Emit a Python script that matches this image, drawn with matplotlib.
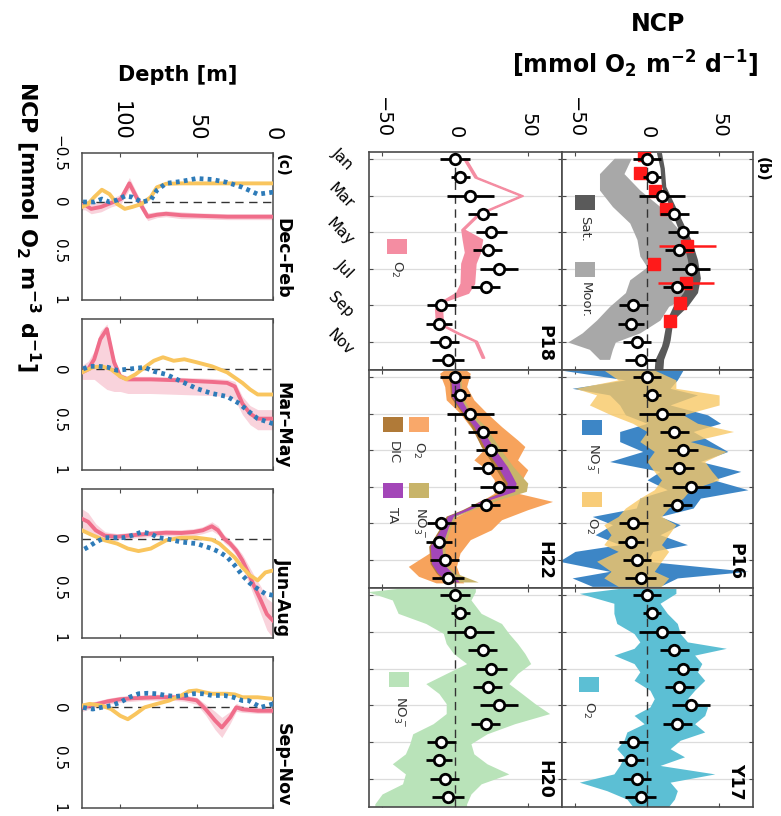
import matplotlib.pyplot as plt
from matplotlib.patches import Rectangle

plt.rcParams['font.family'] = ['DejaVu Sans']
plt.rcParams['mathtext.default'] = 'regular'

W, H = 781, 816

# ---------------- (b) monthly NCP [mmol O2 m-2 d-1] ----------------
months = [1, 2, 3, 4, 5, 6, 7, 8, 9, 10, 11, 12]
month_ticks = [1, 3, 5, 7, 9, 11]
month_labels = ['Jan', 'Mar', 'May', 'Jul', 'Sep', 'Nov']
ncp_circ = [0, 3.5, 10.5, 19, 25, 22.5, 30.5, 21, -9.5, -11, -7, -4.5]
ncp_circ_err = [10, 6.5, 16, 10, 10.5, 10, 13, 10, 10, 9, 10, 11]

# station P: satellite / mooring / red estimates
sat_t = [0.65, 1.5, 2.5, 3.5, 4.5, 5.5, 6.5, 7.5, 8.3, 9.05, 9.8, 10.9, 11.2, 11.95, 12.5]
sat_lo = [6.5, 9, 10, 15, 20, 25, 28, 30, 25, 18, 13.5, 11, 10, 5.5, 5]
sat_hi = [10, 12, 13, 19, 25, 31, 35, 37, 35, 28, 18, 16, 15, 11.5, 11]
moor_t = [0.96, 1.8, 2.7, 3.6, 4.5, 5.4, 6.3, 6.9, 7.6, 8.3, 9.05, 9.8, 10.5, 11.0, 11.4, 11.95]
moor_lo = [-22.8, -33, -33, -24, -12, -7, -5, 0, -12, -15, -26, -35, -45, -55, -40, -33]
moor_hi = [-11, -16, -5, 9, 18, 28, 32, 33, 33, 33, 15, 9, -5, -22, -24, -26]
red_t = [0.78, 1.76, 2.76, 3.76, 5.76, 6.76, 7.76, 8.85, 9.85]
red_v = [-2, -5, 5.5, 13, 28, 5, 27, 23, 16]
red_err = [0, 0, 0, 0, 19.5, 0, 19.5, 0, 0]

# P18 O2
p18_t = [1.0, 2.0, 3.0, 4.0, 4.85, 5.4, 6.1, 6.7, 7.8, 8.3, 8.75, 9.2, 9.8, 10.0, 10.5, 10.95, 11.85]
p18_lo = [6, 13.5, 45, 15.5, 4.5, 5.5, 7, 4.5, 4, 1, -8.5, -13.5, -13, -11, 1, 13.5, 18.5]
p18_hi = [7.5, 15, 46.5, 17, 6, 18.5, 17, 14, 13, 9, -7, -9, -8.5, -9.5, 2.5, 15, 20]

# P16 NO3 and O2
p16_t = [0.62, 1.16, 1.62, 1.98, 2.53, 3.07, 3.53, 3.98, 4.53, 5.07, 5.62, 6.16, 6.62,
         7.16, 7.62, 8.16, 8.62, 9.07, 9.62, 10.16, 10.53, 11.07, 11.62, 11.98, 12.44]
p16_no3_lo = [-60, -15, -52, -26, -19, -15, 0, -19, -19, -3, -26, 9, 0,
              14, -5, -7.5, -38, -24, -36, -19, -50, -61, -26, -52, -38]
p16_no3_hi = [25, 21, 16, 35, 16, 42, 51, 32, 44, 56, 37, 65, 46,
              70, 37, 32, 9, 23, 9, 28, 4, 0, 70, 21, 9]
p16_o2_lo = [-30, -20, -50, -35, -40, -25, -10, 0, -5, 5, 0, 5, 10,
             5, -5, -15, -20, -30, -25, -30, -20, -35, -25, -30, -20]
p16_o2_hi = [5, 20, 20, 50, 50, 25, 35, 60, 30, 55, 40, 45, 50,
             30, 25, 15, 10, 20, 15, 10, 15, 10, 5, 15, 10]

# H22 O2, NO3, DIC, TA
h22_t = [0.65, 0.8, 1.53, 2.25, 2.98, 3.71, 4.44, 4.8, 5.53, 6.07, 6.62, 7.35, 7.8, 8.25,
         8.8, 9.35, 9.89, 10.62, 11.35, 11.89, 12.25]
h22_o2_lo = [-8, -10.5, -7, -6, 3.5, 10.5, 17.6, 22, 13, 22, 27, 27, 17.6, 10.5,
             -3.5, -6, -10.5, -17.6, -32, -25, -13]
h22_o2_hi = [8, 10.5, 8, 13, 22, 32, 43, 48, 43, 50, 46, 43, 67, 50,
             32, 25, 10.5, 3.5, 1, 3.5, 6]
h22_c_t = [0.8, 2.1, 3.0, 3.7, 4.8, 5.9, 6.8, 7.25, 7.7, 8.25, 8.6, 9.2, 10.25, 11.2, 11.7, 12.2]
h22_no3_lo = [-2, -1, 7, 12, 18, 28, 38, 40, 26, 8, -4, -8, -15, -14, -10, -3]
h22_no3_hi = [4, 5, 12, 21, 30, 40, 50, 49, 30, 12, 1, -3, -7, -6, 0, 16]
h22_dic_lo = [-4, -3, 5, 11, 18, 27, 34, 33, 19, 5, -6, -10, -18, -17, -13, -7]
h22_dic_hi = [2, 2, 8, 15, 23, 32, 38, 37, 22, 8, -3, -6, -11, -10, -4, 1]
h22_ta_lo = [-3, -2, 6, 13, 20, 29.5, 36, 34, 20, 6, -5, -9, -17, -16, -12, -5]
h22_ta_hi = [3, 3.5, 10, 17.5, 26, 36, 42, 41, 24, 10, -1, -4.5, -9, -8, -2, 3]

# H20 NO3
h20_t = [0.65, 0.82, 1.27, 2.0, 2.55, 3.09, 3.64, 4.18, 4.73, 5.27, 5.82, 6.36, 6.91, 7.45,
         8.0, 8.55, 9.09, 9.64, 10.18, 10.73, 11.27, 11.82, 12.36, 12.5]
h20_lo = [-40, -60, -43, -39, -20, -8, -6, -1, 8, -6, -20, -11, -6, -6,
          -15, -29, -31, -34, -43, -34, -36, -50, -55, -55]
h20_hi = [14, 14, 11, 18, 32, 37, 43, 48, 52, 43, 37, 46, 55, 65,
          41, 22, 11, 13, 22, 37, 18, 11, 8, 8]

# Y17 O2
y17_t = [0.65, 0.91, 1.45, 2.0, 2.55, 3.1, 3.55, 3.9, 4.27, 4.73, 5.18, 5.64, 6.18, 6.64,
         7.09, 7.55, 8.0, 8.45, 8.9, 9.36, 9.8, 10.27, 10.73, 11.18, 11.64, 12.1, 12.5]
y17_lo = [-20, -47, -23, -23, -21, -9, -5, -9, -23, -9, -5, -9, 2, 5,
          2, -9, -2, -14, -16, -21, -16, -19, -23, -47, -28, -14, -10]
y17_hi = [20, 20, 9, 14, 21, 23, 28, 55, 33, 38, 35, 40, 33, 28,
          42, 40, 33, 40, 23, 16, 26, 9, 47, 16, 21, 19, 15]

# ---------------- (c) NCP profiles [mmol O2 m-3 d-1] ----------------
seasons = ['Dec\u2013Feb', 'Mar\u2013May', 'Jun\u2013Aug', 'Sep\u2013Nov']

djf_pink_z = [0, 30, 50, 60, 70, 76, 82, 88.7, 94, 99.6, 106, 112.5, 119, 123, 125]
djf_pink = [0.15, 0.15, 0.14, 0.135, 0.12, 0.13, 0.15, -0.03, -0.19, -0.03, 0.01, 0.05, 0.07, 0.03, 0.03]
djf_pink_lo = [0.12, 0.12, 0.11, 0.1, 0.09, 0.1, 0.11, -0.08, -0.25, -0.08, -0.03, 0.0, 0.02, -0.02, -0.02]
djf_pink_hi = [0.18, 0.18, 0.17, 0.17, 0.15, 0.16, 0.19, 0.02, -0.13, 0.02, 0.05, 0.1, 0.12, 0.08, 0.08]
djf_yel_z = [0, 20, 40, 60, 70, 76, 80, 86, 92, 97, 102, 107, 112, 117, 121, 125]
djf_yel = [-0.19, -0.19, -0.19, -0.19, -0.186, -0.15, -0.05, 0.02, 0.05, 0.07, 0.02, -0.08, -0.125, -0.05, 0.02, 0.05]
djf_blu_z = [0, 10, 20, 30, 40, 50, 60, 70, 76, 80, 86, 92, 97, 102, 107, 112, 117, 125]
djf_blu = [-0.10, -0.08, -0.15, -0.2, -0.23, -0.24, -0.21, -0.19, -0.12, -0.02, 0, -0.05, -0.06, -0.02, 0, -0.03, 0, 0]

mam_pink_z = [0, 10, 15, 20, 25, 30, 40, 60, 80, 95, 100, 104, 108.7, 113, 117, 121, 125]
mam_pink = [0.49, 0.49, 0.44, 0.34, 0.17, 0.135, 0.125, 0.11, 0.1, 0.1, 0.07, -0.07, -0.4, -0.3, -0.1, 0, 0.03]
mam_pink_lo = [0.4, 0.4, 0.36, 0.27, 0.12, 0.1, 0.09, 0.08, 0.07, 0.07, 0.04, -0.12, -0.45, -0.38, -0.18, -0.08, -0.04]
mam_pink_hi = [0.6, 0.6, 0.55, 0.45, 0.3, 0.27, 0.26, 0.25, 0.24, 0.24, 0.22, 0.22, 0.2, 0.15, 0.1, 0.1, 0.1]
mam_yel_z = [0, 10, 15, 20, 30, 40, 50, 58, 65, 72, 78, 84, 90, 96, 100, 106, 112, 118, 125]
mam_yel = [0.25, 0.25, 0.2, 0.135, 0.03, -0.03, -0.07, -0.1, -0.085, -0.12, -0.085, -0.02, 0.05, 0.1, 0.07, 0, -0.03, -0.02, 0.03]
mam_blu_z = [0, 10, 17, 22, 30, 40, 50, 60, 70, 78, 84, 90, 96, 102, 108, 114, 120, 125]
mam_blu = [0.54, 0.49, 0.405, 0.34, 0.27, 0.24, 0.19, 0.12, 0.05, 0.02, -0.02, -0.01, 0, 0.01, -0.02, -0.03, -0.03, 0]

jja_pink_z = [0, 4, 8, 12, 16, 20, 24, 28, 32, 36, 40, 46, 52, 60, 70, 80, 88, 95, 102, 110, 116, 121, 125]
jja_pink = [0.825, 0.76, 0.62, 0.49, 0.35, 0.22, 0.12, 0.05, 0, -0.084, -0.125, -0.084, -0.067, -0.057,
            -0.06, -0.05, -0.04, -0.03, -0.02, -0.03, -0.084, -0.17, -0.2]
jja_pink_lo = [0.65, 0.6, 0.48, 0.38, 0.27, 0.16, 0.08, 0.01, -0.04, -0.13, -0.17, -0.12, -0.1, -0.09,
               -0.09, -0.08, -0.07, -0.06, -0.05, -0.07, -0.15, -0.26, -0.3]
jja_pink_hi = [1.0, 0.92, 0.76, 0.6, 0.44, 0.29, 0.17, 0.09, 0.04, -0.04, -0.08, -0.05, -0.03, -0.02,
               -0.03, -0.02, -0.01, 0.0, 0.01, 0.01, -0.02, -0.08, -0.1]
jja_yel_z = [0, 5, 10, 15, 20, 25, 30, 35, 40, 50, 60, 70, 80, 88, 95, 102, 110, 118, 125]
jja_yel = [0.32, 0.34, 0.42, 0.37, 0.29, 0.19, 0.12, 0.05, 0.01, -0.01, -0.01, 0.017, 0.1, 0.125, 0.1,
           0.05, 0.017, -0.034, -0.084]
jja_blu_z = [0, 5, 10, 15, 20, 25, 30, 35, 40, 50, 60, 70, 75, 80, 86, 92, 98, 104, 110, 116, 121, 125]
jja_blu = [0.57, 0.555, 0.505, 0.45, 0.37, 0.27, 0.185, 0.135, 0.10, 0.05, 0.034, 0, -0.01, -0.05,
           -0.067, -0.034, -0.01, -0.01, -0.01, 0.034, 0.084, 0.118]

son_pink_z = [0, 10, 20, 24, 28, 33.5, 38, 44, 50, 58, 66, 76, 84, 92, 100, 108, 116, 125]
son_pink = [0.034, 0.034, 0.02, 0.0, 0.1, 0.2, 0.13, 0.02, -0.07, -0.09, -0.1, -0.1, -0.095, -0.09,
            -0.08, -0.06, -0.03, 0.0]
son_pink_lo = [0.0, 0.0, -0.01, -0.04, 0.04, 0.1, 0.04, -0.03, -0.1, -0.12, -0.13, -0.13, -0.12, -0.12,
               -0.11, -0.09, -0.06, -0.04]
son_pink_hi = [0.06, 0.06, 0.05, 0.04, 0.16, 0.3, 0.22, 0.08, -0.03, -0.06, -0.07, -0.07, -0.07, -0.06,
               -0.05, -0.03, 0.0, 0.04]
son_yel_z = [0, 10, 20, 25, 30, 40, 45, 50, 55, 60, 68, 76, 84, 90, 95, 100, 106, 112, 120, 125]
son_yel = [-0.084, -0.1, -0.1, -0.128, -0.135, -0.135, -0.15, -0.168, -0.16, -0.118, -0.067, -0.034, 0,
           0.067, 0.118, 0.084, 0.017, -0.017, -0.034, -0.017]
son_blu_z = [0, 4, 8, 12, 16, 20, 26, 32, 40, 46, 52, 58, 64, 70, 76, 82, 88, 94, 100, 106, 112, 118, 125]
son_blu = [-0.034, -0.017, 0, -0.034, -0.067, -0.067, -0.1, -0.118, -0.118, -0.135, -0.135, -0.118,
           -0.108, -0.118, -0.135, -0.14, -0.135, -0.1, -0.05, -0.017, 0, 0.017, 0]

PINK, PINK_BAND = '#f06d8a', '#f9d3dc'
YEL, BLU = '#f9c55e', '#2e7bb8'
EDGE = '#4a4a4a'
MINUS = '\u2212'


def add_ax(x0, x1, y0, y1):
    return fig.add_axes([x0 / W, 1 - y1 / H, (x1 - x0) / W, (y1 - y0) / H])


def legend_box(ax, x, y, color, label, ty):
    ax.add_patch(Rectangle((x - 0.052, y - 0.034), 0.105, 0.069, transform=ax.transAxes,
                           facecolor=color, edgecolor='none', zorder=6))
    ax.text(x, ty, label, rotation=-90, ha='center', va='top', transform=ax.transAxes,
            fontsize=9.5, color='#333333', zorder=6)


fig = plt.figure(figsize=(W / 100, H / 100), dpi=100)

# ---- panel (b) grid: output columns = left / right, rows top to bottom ----
bx = [(369, 562), (562, 753)]
by = [(152, 370), (370, 588), (588, 807)]
baxes = {}
for ci, (x0, x1) in enumerate(bx):
    for ri, (y0, y1) in enumerate(by):
        ax = add_ax(x0, x1, y0, y1)
        ax.set_xlim(-59, 73.5)
        ax.set_ylim(12.53, 0.62)
        ax.set_yticks(month_ticks)
        ax.yaxis.grid(True, color='#dcdcdc', lw=0.9)
        ax.set_axisbelow(True)
        ax.set_xticks([-50, 0, 50])
        ax.xaxis.tick_top()
        ax.tick_params(direction='in', length=3, color=EDGE, top=True, bottom=True, left=True, right=True)
        if ri == 0:
            ax.set_xticklabels([MINUS + '50', '0', '50'], rotation=-90, fontsize=14)
            ax.tick_params(axis='x', pad=10)
        else:
            ax.set_xticklabels([])
        if ci == 0 and ri == 0:
            ax.set_yticklabels(month_labels, rotation=-45, fontsize=11, va='center')
            ax.tick_params(axis='y', pad=9)
        else:
            ax.set_yticklabels([])
        for s in ax.spines.values():
            s.set_color(EDGE)
            s.set_linewidth(1.2)
        ax.axvline(0, color='#333333', lw=1, ls=(0, (6, 4)), zorder=3)
        baxes[(ci, ri)] = ax

# station P (satellite, mooring)
ax = baxes[(1, 0)]
ax.fill_betweenx(moor_t, moor_lo, moor_hi, color='#a8a8a8', lw=0, zorder=1)
ax.fill_betweenx(sat_t, sat_lo, sat_hi, color='#5a5a5a', lw=0, zorder=1.5)
ax.errorbar(red_v, red_t, xerr=red_err, fmt='s', color='#ff1a1a', ms=8.5, elinewidth=1.8,
            capsize=0, zorder=4)
legend_box(ax, 0.12, 0.77, '#5a5a5a', 'Sat.', 0.706)
legend_box(ax, 0.12, 0.459, '#a8a8a8', 'Moor.', 0.404)
ax.text(1.047, 0.977, '(b)', transform=ax.transAxes, rotation=-90, ha='center', va='top',
        fontsize=11, fontweight='bold')

# P18
ax = baxes[(0, 0)]
ax.fill_betweenx(p18_t, p18_lo, p18_hi, color='#f48da2', lw=1.2, edgecolor='#f48da2', zorder=1)
legend_box(ax, 0.145, 0.564, '#f48da2', 'O$_2$', 0.505)

# P16
ax = baxes[(1, 1)]
ax.fill_betweenx(p16_t, p16_no3_lo, p16_no3_hi, color='#3d86c6', lw=0, zorder=1)
ax.fill_betweenx(p16_t, p16_o2_lo, p16_o2_hi, color='#f8c866', alpha=0.8, lw=0, zorder=1.5)
legend_box(ax, 0.157, 0.734, '#3d86c6', 'NO$_3^-$', 0.665)
legend_box(ax, 0.157, 0.404, '#f8cc78', 'O$_2$', 0.326)

# H22
ax = baxes[(0, 1)]
ax.fill_betweenx(h22_t, h22_o2_lo, h22_o2_hi, color='#f7a35c', lw=0, zorder=1)
ax.fill_betweenx(h22_c_t, h22_no3_lo, h22_no3_hi, color='#c8b46a', lw=0, zorder=1.2)
ax.fill_betweenx(h22_c_t, h22_dic_lo, h22_dic_hi, color='#b07a38', lw=0, zorder=1.4)
ax.fill_betweenx(h22_c_t, h22_ta_lo, h22_ta_hi, color='#a346b8', lw=0, zorder=1.6)
legend_box(ax, 0.259, 0.748, '#f9a86a', 'O$_2$', 0.674)
legend_box(ax, 0.124, 0.748, '#b07a38', 'DIC', 0.674)
legend_box(ax, 0.259, 0.445, '#c8b46a', 'NO$_3^-$', 0.372)
legend_box(ax, 0.124, 0.445, '#a346b8', 'TA', 0.372)

# H20
ax = baxes[(0, 2)]
ax.fill_betweenx(h20_t, h20_lo, h20_hi, color='#b9e3b9', lw=0, zorder=1)
legend_box(ax, 0.155, 0.583, '#b9e3b9', 'NO$_3^-$', 0.509)

# Y17
ax = baxes[(1, 2)]
ax.fill_betweenx(y17_t, y17_lo, y17_hi, color='#5cbfd4', lw=0, zorder=1)
legend_box(ax, 0.141, 0.56, '#5cbfd4', 'O$_2$', 0.486)

stations = {(0, 0): 'P18', (0, 1): 'H22', (0, 2): 'H20', (1, 1): 'P16', (1, 2): 'Y17'}
for key, ax in baxes.items():
    ax.errorbar(ncp_circ, months, xerr=ncp_circ_err, fmt='o', mfc='white', mec='black',
                ecolor='black', ms=7.5, mew=2, elinewidth=2, capsize=0, zorder=5)
    if key in stations:
        ax.text(0.91, 0.035, stations[key], transform=ax.transAxes, rotation=-90,
                ha='center', va='bottom', fontsize=12.5, fontweight='bold', zorder=6)

fig.text(658 / W, 1 - 24 / H, 'NCP', ha='center', va='center', fontsize=17, fontweight='bold')
fig.text(635 / W, 1 - 64 / H, r'[mmol O$_\mathbf{2}$ m$^\mathbf{-2}$ d$^\mathbf{-1}$]',
         ha='center', va='center', fontsize=17, fontweight='bold')

# ---- panel (c): four seasonal depth profiles ----
cy = [(153, 300), (319, 470), (489, 638), (657, 808)]
profiles = [
    (djf_pink_z, djf_pink, djf_pink_lo, djf_pink_hi, djf_yel_z, djf_yel, djf_blu_z, djf_blu),
    (mam_pink_z, mam_pink, mam_pink_lo, mam_pink_hi, mam_yel_z, mam_yel, mam_blu_z, mam_blu),
    (jja_pink_z, jja_pink, jja_pink_lo, jja_pink_hi, jja_yel_z, jja_yel, jja_blu_z, jja_blu),
    (son_pink_z, son_pink, son_pink_lo, son_pink_hi, son_yel_z, son_yel, son_blu_z, son_blu),
]
for i, ((y0, y1), prof) in enumerate(zip(cy, profiles)):
    pz, pv, plo, phi, yz, yv, bz, bv = prof
    ax = add_ax(82, 273, y0, y1)
    ax.set_xlim(125, 0)
    ax.set_ylim(1, -0.5)
    ax.fill_between(pz, plo, phi, color=PINK_BAND, lw=0, zorder=1)
    ax.axhline(0, color='#333333', lw=1, ls=(0, (6, 4)), zorder=2)
    ax.plot(pz, pv, color=PINK, lw=2.8, zorder=3)
    ax.plot(yz, yv, color=YEL, lw=2.8, zorder=4)
    ax.plot(bz, bv, color=BLU, lw=3.4, ls=(0, (0.8, 0.9)), zorder=5)
    ax.set_xticks([0, 50, 100])
    ax.xaxis.tick_top()
    ax.set_yticks([-0.5, 0, 0.5, 1])
    if i == 0:
        ytl = [MINUS + '0.5', '0', '0.5', '1']
    else:
        ytl = ['', '0', '0.5', '1']
    ax.set_yticklabels(ytl, rotation=-90, fontsize=11, va='center')
    ax.tick_params(direction='in', length=3, color=EDGE, top=True, bottom=True)
    ax.tick_params(axis='y', pad=11, left=False, right=False)
    if i == 0:
        ax.set_xticklabels(['0', '50', '100'], rotation=-90, fontsize=15)
        ax.tick_params(axis='x', pad=9)
        ax.text(1.047, 0.99, '(c)', transform=ax.transAxes, rotation=-90, ha='center', va='top',
                fontsize=11, fontweight='bold')
        ax.set_ylabel(r'NCP [mmol O$_\mathbf{2}$ m$^\mathbf{-3}$ d$^\mathbf{-1}$]', rotation=-90,
                      fontsize=16, fontweight='bold', va='center')
        ax.yaxis.set_label_coords(-0.28, 0.5)
    else:
        ax.set_xticklabels([])
    ax.text(1.05, 0.01, seasons[i], transform=ax.transAxes, rotation=-90, ha='center', va='bottom',
            fontsize=12.5, fontweight='bold')
    for s in ax.spines.values():
        s.set_color(EDGE)
        s.set_linewidth(1.1)

fig.text(178 / W, 1 - 75 / H, 'Depth [m]', ha='center', va='center', fontsize=15, fontweight='bold')

fig.savefig('out.png', dpi=100)
